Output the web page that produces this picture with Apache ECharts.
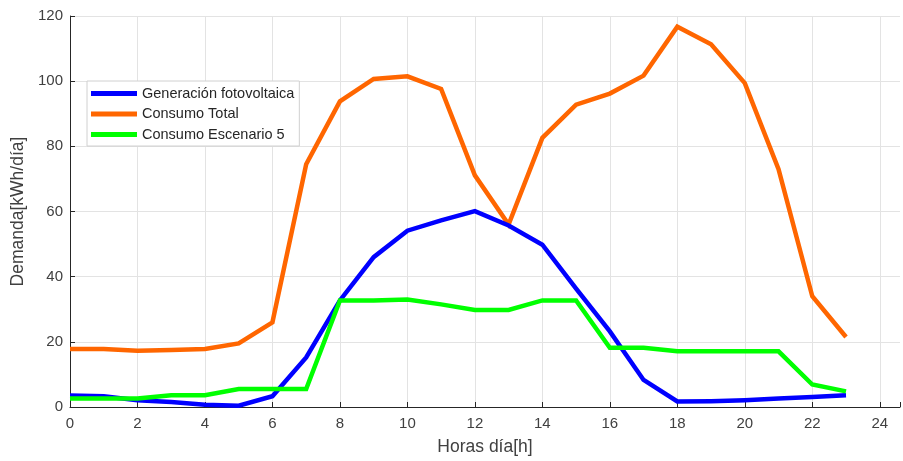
<!DOCTYPE html>
<html>
<head>
<meta charset="utf-8">
<script src="https://cdn.jsdelivr.net/npm/echarts@6/dist/echarts.min.js"></script>
<style>html,body{margin:0;padding:0;background:#fff}#c{width:903px;height:461px}</style>
</head>
<body>
<div id="c"></div>
<script>
const hours = [0,1,2,3,4,5,6,7,8,9,10,11,12,13,14,15,16,17,18,19,20,21,22,23];
const seriesNames = ['Generación fotovoltaica','Consumo Total','Consumo Escenario 5'];
const generacion = [3.5,3.3,2.1,1.5,0.7,0.4,3.3,15.2,32.7,46,54.1,57.3,60.1,55.7,49.8,36.3,23.2,8.3,1.7,1.8,2.1,2.6,3.1,3.6];
const consumoTotal = [17.8,17.8,17.3,17.5,17.8,19.5,26,74.5,93.8,100.7,101.5,97.6,71.1,56,82.6,92.8,96.2,101.7,116.7,111.3,99.4,73,34,21.5];
const consumoEsc5 = [2.6,2.6,2.6,3.6,3.6,5.5,5.5,5.5,32.7,32.7,33,31.5,29.8,29.8,32.7,32.7,18.2,18.2,17.1,17.1,17.1,17.1,6.9,4.8];
const colors = ['#0000ff','#ff6600','#00ff00'];
const xTicks = {min:0, max:24.6, interval:2};
const yTicks = {min:0, max:120, interval:20};

const pairs = a => hours.map((h,i)=>[h,a[i]]);
const datas = [generacion, consumoTotal, consumoEsc5];
const font = 'Liberation Sans, Arial, sans-serif';
const chart = echarts.init(document.getElementById('c'), null, {renderer:'canvas'});
chart.setOption({
  animation:false,
  backgroundColor:'#fff',
  grid:{left:70, top:16, right:1.5, bottom:52, containLabel:false},
  legend:{
    orient:'vertical', left:87, top:81,
    data: seriesNames.map(n=>({name:n, icon:'rect'})),
    itemWidth:46, itemHeight:5, itemGap:5.5,
    padding:[5,5,4,4],
    borderColor:'#d0d0d0', borderWidth:1, backgroundColor:'#fff',
    textStyle:{fontFamily:font, fontSize:14.5, color:'#262626', lineHeight:15}
  },
  xAxis:{
    type:'value', min:xTicks.min, max:xTicks.max, interval:xTicks.interval,
    name:'Horas día[h]', nameLocation:'middle', nameGap:31,
    nameTextStyle:{fontFamily:font, fontSize:17.5, color:'#404040'},
    axisLine:{show:true, onZero:false, lineStyle:{color:'#262626', width:1}},
    axisTick:{show:true, inside:true, length:5, lineStyle:{color:'#262626'}},
    axisLabel:{fontFamily:font, fontSize:15, color:'#404040', margin:9,
      formatter:v=> (v%2===0 ? String(v) : '')},
    splitLine:{show:true, showMaxLine:false, lineStyle:{color:'#e3e3e3', width:1}}
  },
  yAxis:{
    type:'value', min:yTicks.min, max:yTicks.max, interval:yTicks.interval,
    name:'Demanda[kWh/día]', nameLocation:'middle', nameGap:40, nameRotate:90,
    nameTextStyle:{fontFamily:font, fontSize:17.5, color:'#404040'},
    axisLine:{show:true, onZero:false, lineStyle:{color:'#262626', width:1}},
    axisTick:{show:true, inside:true, length:5, lineStyle:{color:'#262626'}},
    axisLabel:{fontFamily:font, fontSize:15, color:'#404040', margin:7},
    splitLine:{show:true, lineStyle:{color:'#e3e3e3', width:1}}
  },
  series: seriesNames.map((n,i)=>({
    name:n, type:'line', data:pairs(datas[i]), showSymbol:false, symbol:'none',
    lineStyle:{color:colors[i], width:4.5, join:'miter'}, itemStyle:{color:colors[i]},
    z: i===1 ? 2 : (i===0 ? 3 : 4)
  }))
});
</script>
</body>
</html>
